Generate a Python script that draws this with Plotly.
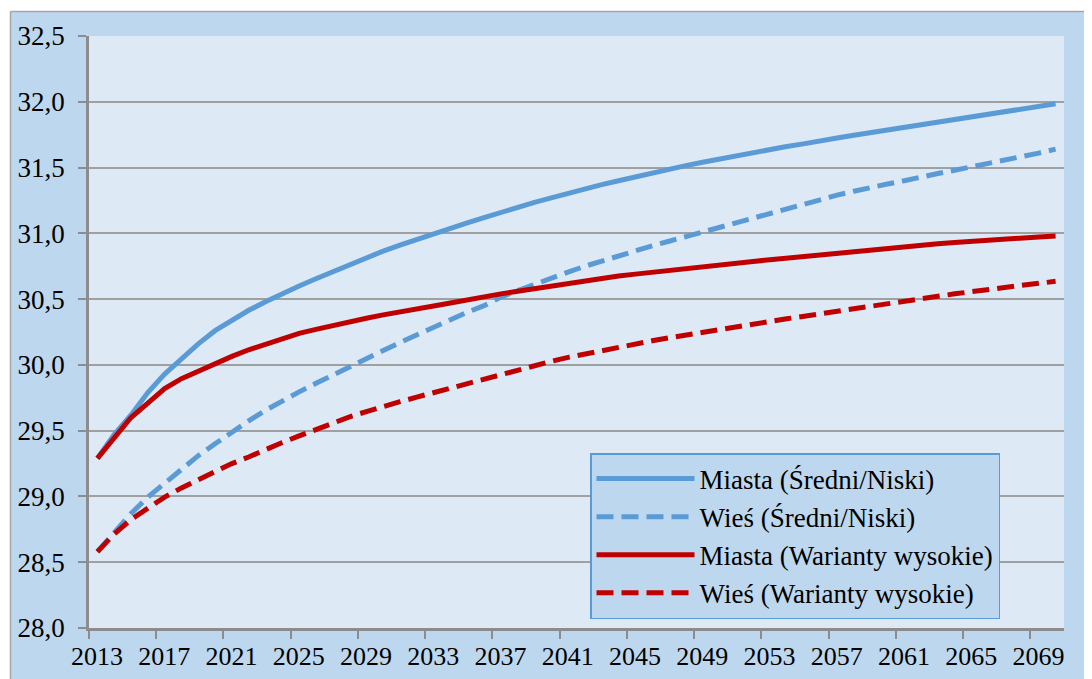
import plotly.graph_objects as go

years = list(range(2013, 2071))

miasta_sredni = [29.29, 29.47, 29.62, 29.79, 29.93, 30.05, 30.16, 30.26, 30.34, 30.415,
                 30.48, 30.545, 30.60, 30.655, 30.71, 30.765, 30.815, 30.865, 30.91, 30.955,
                 31.00, 31.04, 31.08, 31.12, 31.16, 31.20, 31.235, 31.27, 31.305, 31.34,
                 31.37, 31.40, 31.43, 31.46, 31.49, 31.515, 31.54, 31.565, 31.59, 31.61,
                 31.635, 31.66, 31.68, 31.705, 31.725, 31.745, 31.765, 31.785, 31.805, 31.83,
                 31.85, 31.87, 31.89, 31.91, 31.93, 31.95, 31.97, 31.985]

wies_sredni = [28.58, 28.73, 28.87, 28.995, 29.10, 29.21, 29.31, 29.40, 29.49, 29.575,
               29.655, 29.73, 29.795, 29.86, 29.925, 29.99, 30.05, 30.11, 30.17, 30.23,
               30.29, 30.345, 30.40, 30.45, 30.515, 30.565, 30.615, 30.66, 30.705, 30.75,
               30.79, 30.83, 30.87, 30.905, 30.94, 30.975, 31.01, 31.045, 31.08, 31.115,
               31.155, 31.19, 31.225, 31.26, 31.29, 31.32, 31.35, 31.375, 31.40, 31.43,
               31.455, 31.48, 31.505, 31.53, 31.555, 31.58, 31.61, 31.64]

miasta_wysokie = [29.29, 29.45, 29.60, 29.71, 29.82, 29.895, 29.955, 30.01, 30.065, 30.115,
                  30.16, 30.20, 30.24, 30.27, 30.30, 30.33, 30.355, 30.38, 30.40, 30.425,
                  30.447, 30.47, 30.495, 30.515, 30.54, 30.56, 30.58, 30.60, 30.62, 30.64,
                  30.658, 30.675, 30.69, 30.705, 30.719, 30.733, 30.747, 30.76, 30.773, 30.786,
                  30.799, 30.812, 30.825, 30.838, 30.85, 30.862, 30.874, 30.886, 30.898, 30.909,
                  30.92, 30.93, 30.94, 30.949, 30.957, 30.965, 30.973, 30.98]

wies_wysokie = [28.58, 28.715, 28.825, 28.915, 28.995, 29.065, 29.13, 29.19, 29.25, 29.30,
                29.36, 29.41, 29.46, 29.51, 29.56, 29.605, 29.645, 29.685, 29.72, 29.755,
                29.79, 29.825, 29.86, 29.895, 29.93, 29.963, 29.995, 30.027, 30.057, 30.084,
                30.11, 30.135, 30.16, 30.183, 30.206, 30.228, 30.25, 30.27, 30.29, 30.31,
                30.33, 30.35, 30.37, 30.39, 30.41, 30.43, 30.45, 30.47, 30.49, 30.506,
                30.522, 30.54, 30.558, 30.574, 30.59, 30.605, 30.62, 30.635]

series_names = ["Miasta (Średni/Niski)", "Wieś (Średni/Niski)",
                "Miasta (Warianty wysokie)", "Wieś (Warianty wysokie)"]

x_tick_labels = [str(y) for y in range(2013, 2070, 4)]
y_tick_vals = [28.0, 28.5, 29.0, 29.5, 30.0, 30.5, 31.0, 31.5, 32.0, 32.5]
y_tick_text = ["28,0", "28,5", "29,0", "29,5", "30,0", "30,5", "31,0", "31,5", "32,0", "32,5"]

BLUE = "#5B9BD5"
RED = "#C00000"
OUTER = "#BDD7EE"
INNER = "#DDE9F5"
GRID = "#A0A0A0"
AXIS = "#8C8C8C"
FONT = "Liberation Serif"

# page offset of the figure (default body margin of the html page)
OFF = 8
W, H = 1092 - OFF, 679 - OFF
ML, MR, MT, MB = 89 - OFF, 28, 36 - OFF, 51
PW, PH = W - ML - MR, H - MT - MB


def px(xp):
    """page x pixel -> paper fraction"""
    return (xp - OFF - ML) / PW


def py(yp):
    """page y pixel -> paper fraction"""
    return (H - MB - (yp - OFF)) / PH


fig = go.Figure()
styles = [(miasta_sredni, BLUE, "solid"), (wies_sredni, BLUE, "17px,8px"),
          (miasta_wysokie, RED, "solid"), (wies_wysokie, RED, "17px,8px")]
for name, (vals, col, dash) in zip(series_names, styles):
    fig.add_trace(go.Scatter(x=years, y=vals, mode="lines", name=name,
                             line=dict(color=col, width=5, dash=dash)))

fig.update_layout(
    width=W, height=H,
    margin=dict(l=ML, r=MR, t=MT, b=MB, pad=0, autoexpand=False),
    paper_bgcolor=OUTER, plot_bgcolor=INNER,
    font=dict(family=FONT, color="black", size=27),
    showlegend=True,
    legend=dict(x=px(590), y=py(453), xanchor="left", yanchor="top",
                bgcolor=OUTER, bordercolor=BLUE, borderwidth=1.5,
                font=dict(family=FONT, size=27, color="black"),
                itemwidth=98, tracegroupgap=0),
    xaxis=dict(range=[2012.5, 2070.5], tickmode="array", automargin=False,
               tickvals=[2012.5 + 4 * i for i in range(len(x_tick_labels))],
               ticktext=x_tick_labels, ticklabelshift=8, ticklabelstandoff=-5,
               ticks="outside", ticklen=8, tickwidth=1.5, tickcolor=AXIS,
               showgrid=False, showline=True, linecolor=AXIS, linewidth=2.5,
               zeroline=False, tickfont=dict(size=26, family=FONT)),
    yaxis=dict(range=[28.0, 32.5], tickmode="array", tickvals=y_tick_vals,
               automargin=False,
               ticktext=y_tick_text, ticks="outside", ticklen=8, tickwidth=1.5,
               tickcolor=AXIS, showgrid=True, gridcolor=GRID, gridwidth=1.5,
               showline=True, linecolor=AXIS, linewidth=2.5, zeroline=False,
               ticklabelstandoff=8, tickfont=dict(size=27, family=FONT)),
    shapes=[
        dict(type="rect", xref="paper", yref="paper", x0=px(-20), x1=px(1100),
             y0=py(11), y1=py(-20), fillcolor="white", line=dict(width=0), layer="above"),
        dict(type="rect", xref="paper", yref="paper", x0=px(-20), x1=px(10),
             y0=py(700), y1=py(-20), fillcolor="white", line=dict(width=0), layer="above"),
        dict(type="line", xref="paper", yref="paper", x0=px(10.5), x1=px(1100),
             y0=py(11.5), y1=py(11.5), line=dict(color="#A6A6A6", width=1.5), layer="above"),
        dict(type="line", xref="paper", yref="paper", x0=px(10.5), x1=px(10.5),
             y0=py(11.5), y1=py(700), line=dict(color="#A6A6A6", width=1.5), layer="above"),
    ],
)

fig.write_html("out.html")
